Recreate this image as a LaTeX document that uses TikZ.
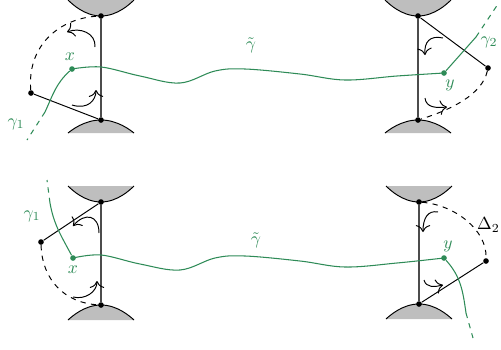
\documentclass[tikz,border=0pt]{standalone}
\usepackage{amsmath}
\usepackage{amssymb}
\usepackage{tikz}
\usetikzlibrary{arrows.meta,positioning,calc}
\usepackage{xcolor}
\definecolor{pathgreen}{RGB}{46,139,87}
\definecolor{cuspgray}{RGB}{190,190,190}

\begin{document}
\begin{tikzpicture}[x=0.02cm, y=-0.02cm,
    dot/.style={circle, fill=black, inner sep=0pt, minimum size=3.2pt},
    gdot/.style={circle, fill=pathgreen, inner sep=0pt, minimum size=3.2pt},
    hinge/.style={draw=black!70, line width=0.8pt},
    arm/.style={draw=black, line width=0.55pt},
    swing/.style={draw=black, dashed, line width=0.55pt},
    gpath/.style={draw=pathgreen, line width=0.6pt},
    gtail/.style={draw=pathgreen, dashed, line width=0.6pt},
    glabel/.style={text=pathgreen, inner sep=1pt},
    turn/.style={-{Computer Modern Rightarrow[scale=1.4]}, line width=0.55pt},
    blob/.style={fill=cuspgray}
  ]
  \useasboundingbox (0,0) rectangle (501,349);

  % Cusps (gray blobs)
  \foreach \X/\Y/\D in {101/16/-16, 101/120/13, 418/16/-16, 418/120/13,
                        101/202/-16, 101/305/15, 419/202/-16, 419/304/15} {
    \fill[blob] ({\X-33},{\Y+\D}) parabola bend (\X,\Y) ({\X+33},{\Y+\D}) -- cycle;
    \draw[arm] ({\X-33},{\Y+\D}) parabola bend (\X,\Y) ({\X+33},{\Y+\D});
  }

  % Upper picture
  \node[dot] (lt1) at (101,16) {};
  \node[dot] (lb1) at (101,120) {};
  \node[dot] (rt1) at (418,16) {};
  \node[dot] (rb1) at (418,120) {};
  \node[dot] (p1) at (31,93) {};
  \node[dot] (p2) at (488,68) {};
  \node[gdot] (x1) at (72,69) {};
  \node[gdot] (y1) at (444,73) {};
  \coordinate (g1a) at (45,112);
  \coordinate (g1b) at (27,140);
  \coordinate (g2a) at (476,37);
  \coordinate (g2b) at (498,4);

  \node[glabel] (lx1) at (70,57) {$x$};
  \node[glabel] (ly1) at (450,85) {$y$};
  \node[glabel] (lg1) at (16,124) {$\gamma_1$};
  \node[glabel] (lg2) at (489,42) {$\gamma_2$};
  \node[glabel] (lgt1) at (251,45) {$\tilde{\gamma}$};

  \draw[hinge] (lt1) -- (lb1);
  \draw[hinge] (rt1) -- (rb1);
  \draw[arm] (p1) -- (lb1);
  \draw[arm] (rt1) -- (p2);
  \draw[swing] (p1) .. controls (27,45) and (60,18) .. (lt1);
  \draw[swing] (p2) .. controls (482,95) and (450,110) .. (rb1);

  \draw[gpath] plot[smooth, tension=0.6] coordinates {(x1.center) (101,67)
    (140,76) (180,83) (215,71) (245,69) (300,74) (345,80) (397,76) (y1.center)};
  \draw[gpath] (x1) to[out=222, in=65] (g1a);
  \draw[gtail] (g1a) -- (g1b);
  \draw[gpath] (y1) -- (g2a);
  \draw[gtail] (g2a) -- (g2b);

  \draw[turn] (95,47) .. controls (96,33) and (80,27) .. (67,32);
  \draw[turn] (72,105) .. controls (88,110) and (96,100) .. (96,90);
  \draw[turn] (443,38) .. controls (430,35) and (424,42) .. (425,55);
  \draw[turn] (425,98) .. controls (426,108) and (437,108) .. (447,107);

  % Lower picture
  \node[dot] (lt2) at (101,202) {};
  \node[dot] (lb2) at (101,305) {};
  \node[dot] (rt2) at (419,202) {};
  \node[dot] (rb2) at (419,304) {};
  \node[dot] (p3) at (41,242) {};
  \node[dot] (p4) at (486,261) {};
  \node[gdot] (x2) at (73,258) {};
  \node[gdot] (y2) at (444,258) {};
  \coordinate (g3a) at (50,203);
  \coordinate (g3b) at (47,180);
  \coordinate (g4a) at (466,313);
  \coordinate (g4b) at (473,338);

  \node[glabel] (lx2) at (73,270) {$x$};
  \node[glabel] (ly2) at (448,246) {$y$};
  \node[glabel] (lg3) at (32,216) {$\gamma_1$};
  \node[glabel] (lgt2) at (256,240) {$\tilde{\gamma}$};
  \node[anchor=east, inner sep=0pt] (ld2) at (500,225) {$\Delta_2$};

  \draw[hinge] (lt2) -- (lb2);
  \draw[hinge] (rt2) -- (rb2);
  \draw[arm] (p3) -- (lt2);
  \draw[arm] (rb2) -- (p4);
  \draw[swing] (p3) .. controls (42,280) and (65,303) .. (lb2);
  \draw[swing] (rt2) .. controls (455,205) and (487,230) .. (p4);

  \draw[gpath] plot[smooth, tension=0.6] coordinates {(x2.center) (101,255)
    (140,264) (180,270) (215,258) (245,256) (300,261) (345,267) (397,263) (y2.center)};
  \draw[gpath] (x2) to[out=118, in=280] (g3a);
  \draw[gtail] (g3a) -- (g3b);
  \draw[gpath] (y2) to[out=-48, in=98] (g4a);
  \draw[gtail] (g4a) -- (g4b);

  \draw[turn] (99,233) .. controls (99,215) and (85,212) .. (73,226);
  \draw[turn] (73,297) .. controls (85,300) and (97,292) .. (97,281);
  \draw[turn] (438,212) .. controls (428,210) and (423,218) .. (423,232);
  \draw[turn] (424,280) .. controls (426,288) and (435,287) .. (443,285);

\end{tikzpicture}
\end{document}
